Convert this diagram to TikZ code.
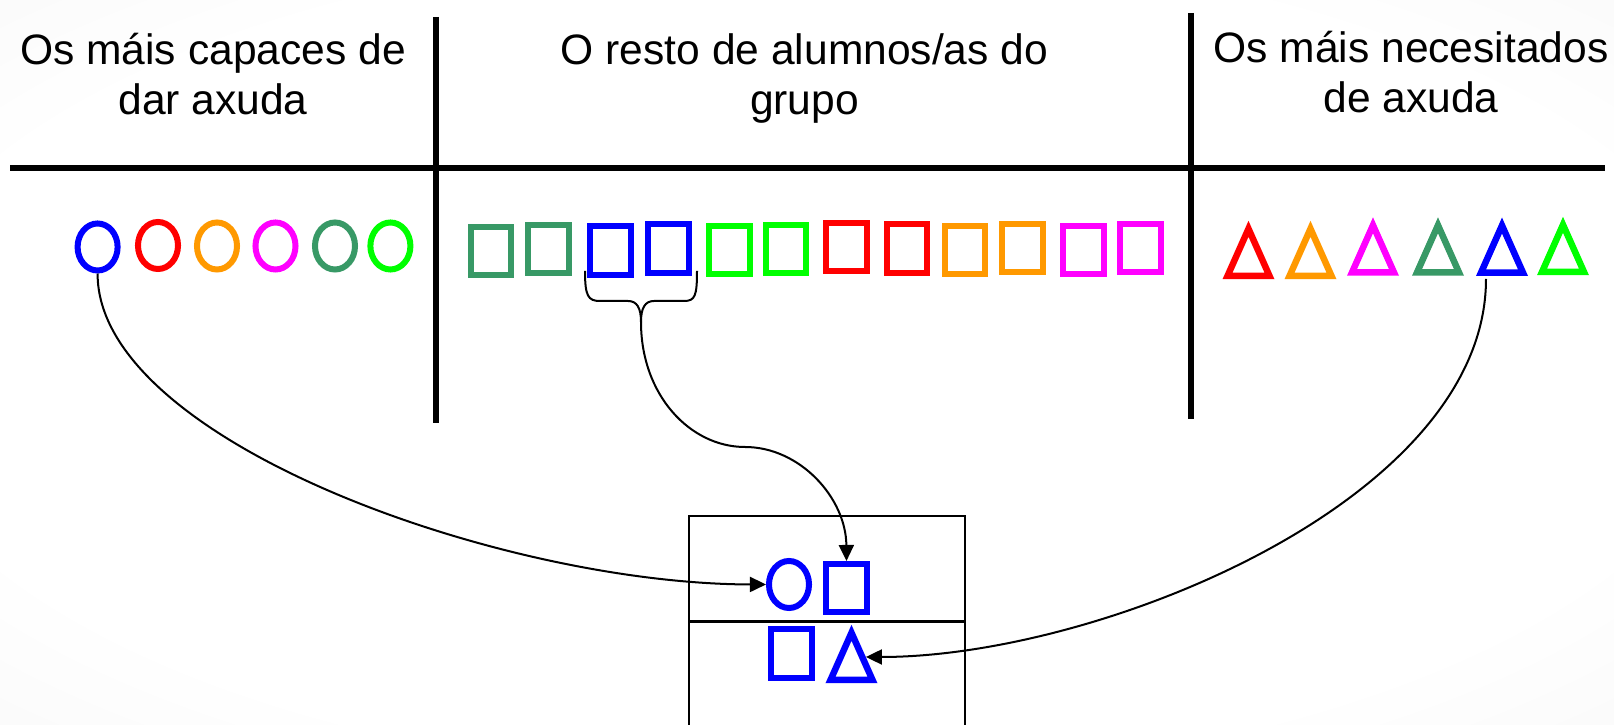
\documentclass[tikz,border=0pt]{standalone}
\usepackage{fontspec}
\setmainfont{Liberation Sans}
\usetikzlibrary{shapes.geometric, arrows.meta}

\pgfdeclareradialshading{slide}{\pgfpoint{0bp}{0bp}}{color(0bp)=(white); color(28bp)=(white); color(50bp)=(black!5); color(71bp)=(black!9)}

\tikzset{
  ring/.style={ellipse, draw=#1, line width=0.06cm, minimum width=0.40cm, minimum height=0.47cm, inner sep=0pt},
  sq/.style={rectangle, draw=#1, line width=0.06cm, minimum width=0.40cm, minimum height=0.48cm, inner sep=0pt},
  tri/.pic={
    \draw[line width=0.065cm, line join=miter] (-21,26) -- (0,-21.2) -- (21,26) -- cycle;
    \coordinate (-east) at (14.4,3);
  },
  head/.style={font=\fontsize{12.1}{14.4}\selectfont, align=center, inner sep=0pt},
  link/.style={line width=0.02cm, -{Triangle[length=0.16cm,width=0.15cm]}},
}

\begin{document}
\begin{tikzpicture}[x=0.01cm, y=-0.01cm]
	\definecolor{cblue}{RGB}{0,0,255}
	\definecolor{cred}{RGB}{255,0,0}
	\definecolor{corange}{RGB}{255,153,0}
	\definecolor{cmagenta}{RGB}{255,0,255}
	\definecolor{cdkgreen}{RGB}{56,153,102}
	\definecolor{cgreen}{RGB}{0,255,0}

	\useasboundingbox (0,0) rectangle (1614,725);
	\shade[shading=slide] (0,0) rectangle (1614,725);

	% the table
	\draw[line width=0.055cm] (10,168) -- (1605,168);
	\draw[line width=0.055cm] (436,17) -- (436,423);
	\draw[line width=0.055cm] (1191,13) -- (1191,419);

	\node (hleft) at (213,115) [head, anchor=base] {Os máis capaces de\\dar axuda};
	\node (hmid) at (804.5,115) [head, anchor=base] {O resto de alumnos/as do\\grupo};
	\node (hright) at (1411,113) [head, anchor=base] {Os máis necesitados\\de axuda};

	% helpers
	\node (c1) at (97.6,247) [ring=cblue] {};
	\node (c2) at (158,245.5) [ring=cred] {};
	\node (c3) at (217,246) [ring=corange] {};
	\node (c4) at (275.5,246) [ring=cmagenta] {};
	\node (c5) at (335,246) [ring=cdkgreen] {};
	\node (c6) at (390.4,246) [ring=cgreen] {};

	% the rest
	\node (s1) at (491,251) [sq=cdkgreen] {};
	\node (s2) at (548.5,249) [sq=cdkgreen] {};
	\node (s3) at (610.5,250.5) [sq=cblue] {};
	\node (s4) at (668.5,248.5) [sq=cblue] {};
	\node (s5) at (729.5,250) [sq=cgreen] {};
	\node (s6) at (786,249) [sq=cgreen] {};
	\node (s7) at (846.5,247) [sq=cred] {};
	\node (s8) at (907,248.5) [sq=cred] {};
	\node (s9) at (965,250) [sq=corange] {};
	\node (s10) at (1022.5,248) [sq=corange] {};
	\node (s11) at (1083.5,250) [sq=cmagenta] {};
	\node (s12) at (1140.5,248) [sq=cmagenta] {};

	% the ones in need
	\pic[cred] (t1) at (1248.5,250) {tri};
	\pic[corange] (t2) at (1310.5,250) {tri};
	\pic[cmagenta] (t3) at (1373,246.5) {tri};
	\pic[cdkgreen] (t4) at (1438,246.5) {tri};
	\pic[cblue] (t5) at (1502,246.7) {tri};
	\pic[cgreen] (t6) at (1563,246) {tri};

	\draw[line width=0.02cm] (585,271) .. controls (585,296) and (588,301) .. (600,301) -- (628,301) .. controls (637,301) and (641,308) .. (641,322) .. controls (641,308) and (645,301) .. (654,301) -- (684,301) .. controls (695,301) and (697,296) .. (697,271);
	\coordinate (brace) at (641,322);
	\coordinate (needy) at (1486,279);

	% the team
	\draw[line width=0.02cm] (689,730) -- (689,516) -- (965,516) -- (965,730);
	\draw[line width=0.03cm] (689,622) -- (965,622);
	\node (bc) at (789,584.5) [ring=cblue] {};
	\node (bs1) at (846.5,588) [sq=cblue] {};
	\node (bs2) at (791.5,653.5) [sq=cblue] {};
	\pic[cblue] (bt) at (851.5,654) {tri};

	\draw[link] (c1.south) .. controls (97,440) and (500,584) .. (bc.west);
	\draw[link] (brace) .. controls (641,395) and (690,447) .. (745,447) .. controls (800,447) and (846,498) .. (bs1.north);
	\draw[link] (needy) .. controls (1486,500) and (1100,657) .. (bt-east);

\end{tikzpicture}
\end{document}
